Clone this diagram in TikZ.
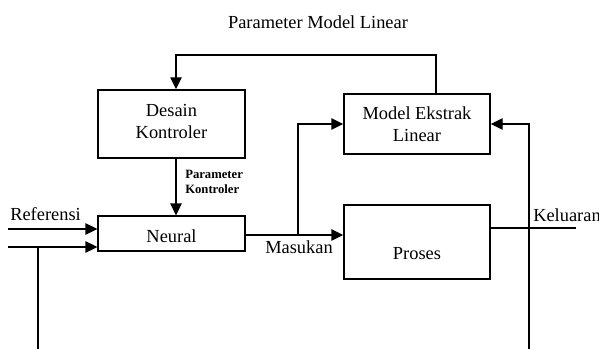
\documentclass[tikz,border=0pt]{standalone}
\usepackage{fontspec}
\setmainfont{Liberation Serif}
\usetikzlibrary{arrows.meta}

\begin{document}
\begin{tikzpicture}[x=0.75pt,y=-0.75pt,
	garis/.style 	= {line width=1.1pt},
	panah/.style 	= {garis, -{Triangle[length=9pt,width=8.5pt]}},
	blok/.style 	= {draw, line width=1.1pt, rectangle, inner sep=0pt},
	teks/.style 	= {font=\fontsize{13.8}{16.5}\selectfont, align=center, inner sep=0pt},
	kecil/.style 	= {font=\fontsize{9.5}{11}\selectfont\bfseries, align=left, inner sep=0pt}]
	\useasboundingbox (0,0) rectangle (599,349);
	
	\node[teks] (judul) at (318,22) {Parameter Model Linear};
	
	\node[blok, minimum width=110pt, minimum height=51pt] (desain) at (171.5,124) {};
	\node[teks] at (171.5,121) {Desain\\Kontroler};
	
	\node[blok, minimum width=110pt, minimum height=26pt] (neural) at (171.5,233.5) {};
	\node[teks] at (171.5,236) {Neural};
	
	\node[blok, minimum width=109.5pt, minimum height=45pt] (model) at (417,124) {};
	\node[teks] at (417,124) {Model Ekstrak\\Linear};
	
	\node[blok, minimum width=109.5pt, minimum height=55.5pt] (proses) at (417,242) {};
	\node[teks] at (417,254) {Proses};
	
	% titik bantu
	\coordinate (atas) at (436,55);
	\coordinate (kol) at (176,0);
	\coordinate (cabang) at (298,235);
	\coordinate (ref) at (8,229);
	\coordinate (umpan) at (8,247);
	\coordinate (titik) at (38,247);
	\coordinate (bawahkiri) at (38,352);
	\coordinate (keluar) at (576,228);
	\coordinate (bawahkanan) at (529,352);
	
	\draw[panah] (model.north -| atas) -- (atas) -| (desain.north -| kol);
	\draw[panah] (desain.south -| kol) -- (neural.north -| kol);
	
	\draw[garis] (neural.east |- cabang) -- (cabang);
	\draw[panah] (cabang) -- (proses.west |- cabang);
	\draw[panah] (cabang) |- (model.west);
	
	\draw[garis] (proses.east |- keluar) -- (keluar);
	\draw[panah] (bawahkanan) |- (model.east);
	
	\draw[panah] (ref) -- (neural.west |- ref);
	\draw[panah] (umpan) -- (neural.west |- umpan);
	\draw[garis] (titik) -- (bawahkiri);
	
	% label
	\node[kecil, anchor=west] at (185,182) {Parameter\\Kontroler};
	\node[teks, anchor=west] at (10,214) {Referensi};
	\node[teks, anchor=west] at (265,247) {Masukan};
	\node[teks, anchor=west] at (533,215) {Keluaran};
	
\end{tikzpicture}
\end{document}
